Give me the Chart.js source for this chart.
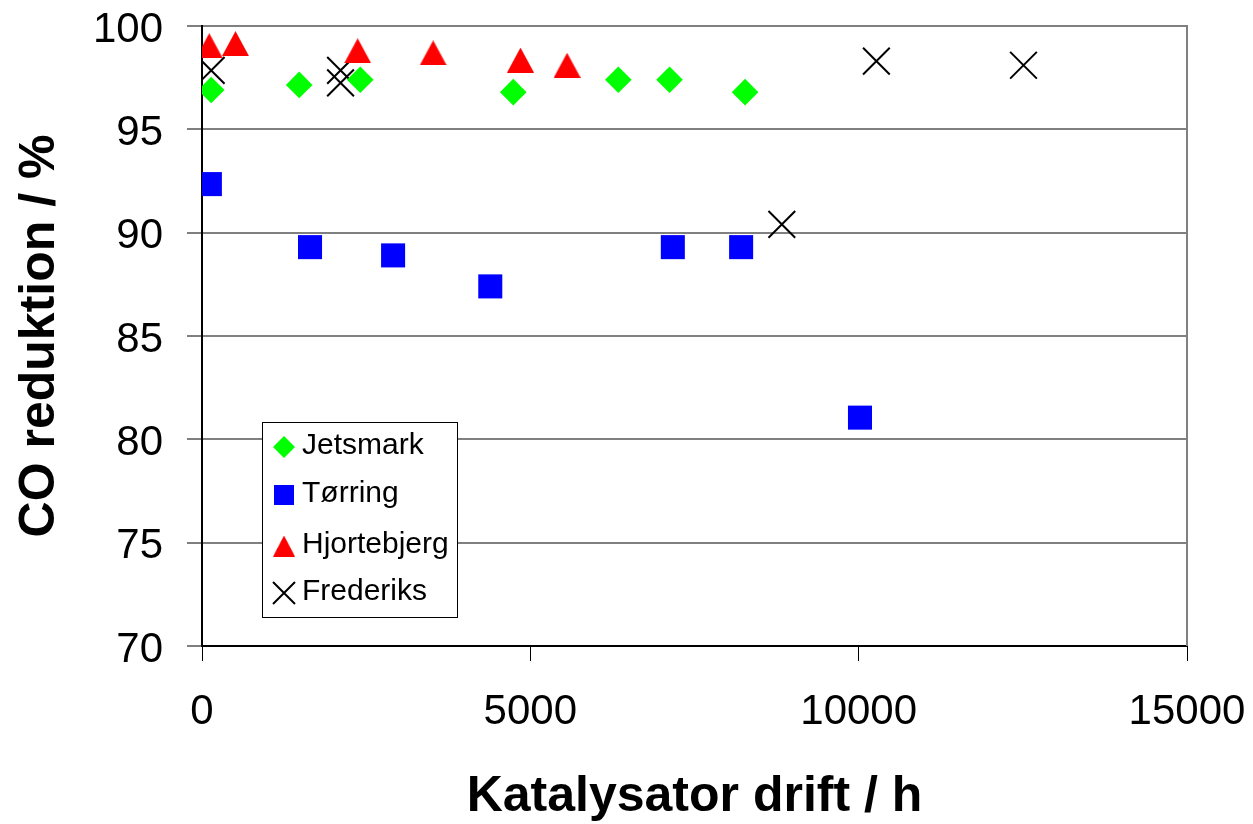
<!DOCTYPE html>
<html lang="da">
<head>
<meta charset="UTF-8">
<title>CO reduktion</title>
<script src="https://cdn.jsdelivr.net/npm/chart.js"></script>
<style>
  html, body { margin: 0; padding: 0; background: #fff; }
  #wrap { width: 1253px; height: 824px; }
</style>
</head>
<body>
<div id="wrap"><canvas id="coChart" width="1253" height="824"></canvas></div>
<script>
// data
const jetsmarkX = [140, 1480, 2410, 4740, 6340, 7120, 8270];
const jetsmarkY = [96.9, 97.15, 97.4, 96.8, 97.4, 97.4, 96.8];
const torringX = [120, 1645, 2910, 4390, 7170, 8210, 10020];
const torringY = [92.35, 89.3, 88.9, 87.4, 89.3, 89.3, 81.05];
const hjortX = [110, 510, 2370, 3520, 4850, 5560];
const hjortY = [99.05, 99.15, 98.8, 98.7, 98.35, 98.1];
const frederiksX = [140, 2110, 2110, 8830, 10270, 12510];
const frederiksY = [97.85, 97.85, 97.25, 90.4, 98.3, 98.1];

const seriesNames = ['Jetsmark', 'Tørring', 'Hjortebjerg', 'Frederiks'];
const xTicks = [0, 5000, 10000, 15000];
const yTicks = [70, 75, 80, 85, 90, 95, 100];

const FONT = '"Liberation Sans", Arial, sans-serif';
Chart.defaults.font.family = FONT;
Chart.defaults.color = '#000';

// triangle marker, centred on its bounding box like the original
function makeTriangle(w, h) {
    const c = document.createElement('canvas');
    c.width = w; c.height = h;
    const g = c.getContext('2d');
    g.fillStyle = '#ff0000';
    g.beginPath();
    g.moveTo(w / 2, 0);
    g.lineTo(w, h);
    g.lineTo(0, h);
    g.closePath();
    g.fill();
    return c;
}
const triImg = makeTriangle(27, 25);

function pts(xs, ys) {
    return xs.map((x, i) => ({ x: x, y: ys[i] }));
}

// legend box inside the plot
const boxLegend = {
    id: 'boxLegend',
    afterDraw(chart) {
        const ctx = chart.ctx;
        const bx = 262.5, by = 422.5, bw = 195, bh = 195;
        const rows = [447, 495, 546, 593];
        const mx = 284;
        ctx.save();
        ctx.fillStyle = '#fff';
        ctx.fillRect(bx, by, bw, bh);
        ctx.strokeStyle = '#000';
        ctx.lineWidth = 1;
        ctx.strokeRect(bx, by, bw, bh);

        // diamond
        ctx.fillStyle = '#00ff00';
        ctx.beginPath();
        ctx.moveTo(mx - 11, rows[0]); ctx.lineTo(mx, rows[0] - 11);
        ctx.lineTo(mx + 11, rows[0]); ctx.lineTo(mx, rows[0] + 11);
        ctx.closePath(); ctx.fill();
        // square
        ctx.fillStyle = '#0000ff';
        ctx.fillRect(mx - 10, rows[1] - 10, 20, 20);
        // triangle
        ctx.drawImage(triImg, mx - 11, rows[2] - 10.5, 22, 21);
        // cross
        ctx.strokeStyle = '#000';
        ctx.lineWidth = 2;
        ctx.beginPath();
        ctx.moveTo(mx - 11, rows[3] - 11); ctx.lineTo(mx + 11, rows[3] + 11);
        ctx.moveTo(mx + 11, rows[3] - 11); ctx.lineTo(mx - 11, rows[3] + 11);
        ctx.stroke();

        ctx.fillStyle = '#000';
        ctx.font = '30px ' + FONT;
        ctx.textBaseline = 'middle';
        ctx.textAlign = 'left';
        seriesNames.forEach((n, i) => ctx.fillText(n, 302, rows[i] - 1));
        ctx.restore();
    }
};

// grey right edge of the plot
const rightEdge = {
    id: 'rightEdge',
    beforeDatasetsDraw(chart) {
        const a = chart.chartArea;
        const ctx = chart.ctx;
        ctx.save();
        ctx.strokeStyle = '#808080';
        ctx.lineWidth = 2;
        ctx.beginPath();
        ctx.moveTo(a.right, a.top - 1);
        ctx.lineTo(a.right, a.bottom);
        ctx.stroke();
        ctx.restore();
    }
};

new Chart(document.getElementById('coChart'), {
    type: 'scatter',
    data: {
        datasets: [
            {
                label: seriesNames[0], data: pts(jetsmarkX, jetsmarkY),
                pointStyle: 'rectRot', pointRadius: 13.3, pointHoverRadius: 13.3,
                backgroundColor: '#00ff00', borderWidth: 0
            },
            {
                label: seriesNames[1], data: pts(torringX, torringY),
                pointStyle: 'rect', pointRadius: 17, pointHoverRadius: 17,
                backgroundColor: '#0000ff', borderWidth: 0
            },
            {
                label: seriesNames[2], data: pts(hjortX, hjortY),
                pointStyle: triImg, pointRadius: 14,
                backgroundColor: '#ff0000', borderWidth: 0
            },
            {
                label: seriesNames[3], data: pts(frederiksX, frederiksY),
                pointStyle: 'crossRot', pointRadius: 18.9, pointHoverRadius: 18.9,
                borderColor: '#000', backgroundColor: '#000', pointBorderWidth: 2
            }
        ]
    },
    options: {
        responsive: false,
        animation: false,
        layout: { padding: { left: 0, right: 66, top: 26, bottom: 0 } },
        plugins: {
            legend: { display: false },
            tooltip: { enabled: false }
        },
        scales: {
            x: {
                type: 'linear',
                min: 0, max: 15000,
                afterBuildTicks: s => { s.ticks = xTicks.map(v => ({ value: v })); },
                afterFit: s => {
                    s.height = 178;
                    s.paddingLeft = 0; s.paddingRight = 0;
                },
                ticks: { font: { size: 42 }, padding: 26, maxRotation: 0, callback: v => String(v) },
                grid: { drawOnChartArea: false, tickLength: 15, tickColor: '#000', tickWidth: 1 },
                border: { color: '#000', width: 2 },
                title: {
                    display: true, text: 'Katalysator drift / h',
                    font: { size: 50, weight: 'bold', lineHeight: 1 },
                    padding: { top: 0, bottom: 2 }
                }
            },
            y: {
                type: 'linear',
                min: 70, max: 100,
                afterBuildTicks: s => { s.ticks = yTicks.map(v => ({ value: v })); },
                afterFit: s => {
                    s.width = 202;
                    s.paddingTop = 0; s.paddingBottom = 0;
                },
                ticks: { font: { size: 42 }, padding: 24, labelOffset: 4, callback: v => String(v) },
                grid: {
                    color: c => (c.tick && c.tick.value === 70) ? '#000' : '#808080',
                    lineWidth: 2, tickLength: 15, tickColor: '#000', tickWidth: 1
                },
                border: { color: '#000', width: 2 },
                title: {
                    display: true, text: 'CO reduktion / %',
                    font: { size: 50, weight: 'bold', lineHeight: 1 },
                    padding: { top: 15, bottom: 0 }
                }
            }
        }
    },
    plugins: [rightEdge, boxLegend]
});
</script>
</body>
</html>
